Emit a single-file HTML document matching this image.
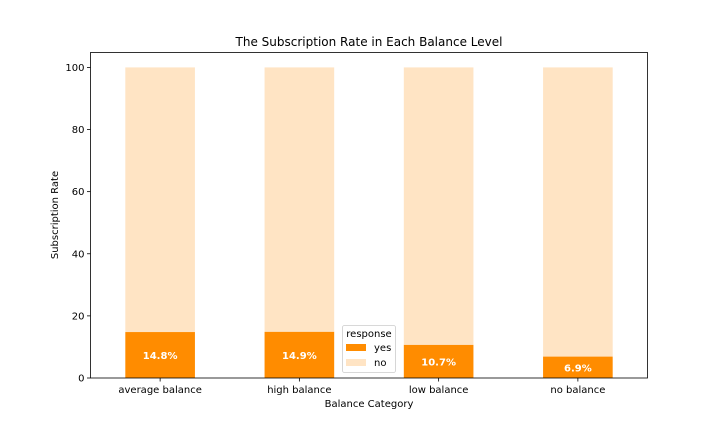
<!DOCTYPE html>
<html><head><meta charset="utf-8"><style>
body{margin:0;background:#fff}
svg{display:block;font-family:"DejaVu Sans","Liberation Sans",sans-serif}
</style></head><body>
<svg id="chart" width="720" height="432">
<text x="369" y="46" text-anchor="middle" font-size="12">The Subscription Rate in Each Balance Level</text>
<g id="bars"></g>
<g id="yaxis"></g>
<g id="xaxis"></g>
<rect x="90.5" y="52.5" width="557" height="325.5" fill="none" stroke="#000" stroke-width="0.8"/>
<text x="369" y="407" text-anchor="middle" font-size="10">Balance Category</text>
<text transform="translate(58,215) rotate(-90)" text-anchor="middle" font-size="10">Subscription Rate</text>
<g>
<rect x="342.5" y="325.5" width="53" height="47" rx="2" fill="#fff" fill-opacity="0.8" stroke="#ccc" stroke-width="0.8"/>
<text x="369" y="337" text-anchor="middle" font-size="10">response</text>
<rect x="346" y="344" width="20" height="7" fill="#ff8c00"/>
<text x="374" y="351" font-size="10">yes</text>
<rect x="346" y="359" width="20" height="7" fill="#ffe4c4"/>
<text x="374" y="366" font-size="10">no</text>
</g>
</svg>
<script>
const categories=["average balance","high balance","low balance","no balance"];
const yesValues=[14.8,14.9,10.7,6.9];
const noValues=[85.2,85.1,89.3,93.1];
const yTicks=[0,20,40,60,80,100];
const NS="http://www.w3.org/2000/svg";
const x0=90.5,x1=647.5,yb=378,yt=52.5,yMax=104.8;
function xs(i){return x0+(i+0.5)*(x1-x0)/categories.length;}
function ys(v){return yb-v*(yb-yt)/yMax;}
const bw=0.5*(x1-x0)/categories.length;
function mk(tag,a,p){const e=document.createElementNS(NS,tag);for(const k in a)e.setAttribute(k,a[k]);p.appendChild(e);return e;}
const bars=document.getElementById('bars');
categories.forEach((c,i)=>{
 const y=yesValues[i],n=noValues[i];
 const r1=mk('rect',{x:xs(i)-bw/2,y:ys(y),width:bw,height:ys(0)-ys(y),fill:'#ff8c00'},bars);
 
 
 const r2=mk('rect',{x:xs(i)-bw/2,y:ys(y+n),width:bw,height:ys(y)-ys(y+n),fill:'#ffe4c4'},bars);
 
 
 const t=mk('text',{x:xs(i),y:ys(y/2)+4,'text-anchor':'middle','font-size':10,'font-weight':'bold',fill:'#fff'},bars);
 t.textContent=y.toFixed(1)+'%';
 
 
});
const ya=document.getElementById('yaxis');
yTicks.forEach(v=>{
 mk('line',{x1:x0-3.5,x2:x0,y1:ys(v),y2:ys(v),stroke:'#000','stroke-width':0.8},ya);
 const t=mk('text',{x:x0-6,y:ys(v)+3.5,'text-anchor':'end','font-size':10},ya);
 t.textContent=v;
 
 
});
const xa=document.getElementById('xaxis');
categories.forEach((c,i)=>{
 mk('line',{x1:xs(i),x2:xs(i),y1:yb,y2:yb+3.5,stroke:'#000','stroke-width':0.8},xa);
 const t=mk('text',{x:xs(i),y:yb+15,'text-anchor':'middle','font-size':10},xa);
 t.textContent=c;
 
 
});
</script>
</body></html>
